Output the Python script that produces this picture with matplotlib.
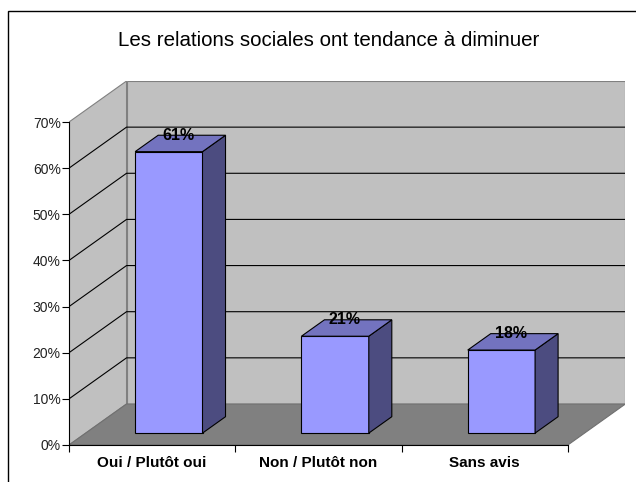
import numpy as np
import matplotlib.pyplot as plt
from matplotlib.patches import Polygon, Rectangle

# donnees
categories = ['Oui / Plutôt oui', 'Non / Plutôt non', 'Sans avis']
values = [61, 21, 18]
bar_labels = ['61%', '21%', '18%']
yticks = [0, 10, 20, 30, 40, 50, 60, 70]
ytick_labels = ['0%', '10%', '20%', '30%', '40%', '50%', '60%', '70%']
title = 'Les relations sociales ont tendance à diminuer'

plt.rcParams['font.family'] = ['Liberation Sans', 'DejaVu Sans']

# fausse 3D (projection oblique)
DX = 0.346   # profondeur en unites de categorie
DY = 8.89    # profondeur en %
ymax = 70
n = len(categories)
w = 0.405
d0, d1 = 0.29, 0.69

fig = plt.figure(figsize=(6.36, 4.82), dpi=100)
ax = fig.add_axes([69/636, 37/482, 556.4/636, 364/482])
ax.set_xlim(0, n + DX)
ax.set_ylim(0, ymax + DY)
ax.patch.set_alpha(0)

# murs
ax.add_patch(Polygon([(0, 0), (DX, DY), (DX, ymax + DY), (0, ymax)],
                     fc='#c0c0c0', ec='#808080', lw=0.8, zorder=1))
ax.add_patch(Polygon([(DX, DY), (n + DX, DY), (n + DX, ymax + DY), (DX, ymax + DY)],
                     fc='#c0c0c0', ec='#808080', lw=0.8, zorder=1))
ax.add_patch(Polygon([(0, 0), (n, 0), (n + DX, DY), (DX, DY)],
                     fc='#808080', ec='#707070', lw=0.8, zorder=1))
for t in yticks[1:-1]:
    ax.plot([0, DX, n + DX], [t, t + DY, t + DY], color='black', lw=0.8, zorder=2)

# barres
dd = d1 - d0
for i, v in enumerate(values):
    x0 = i + 0.5 - w / 2 + d0 * DX
    y0 = d0 * DY
    ax.add_patch(Polygon([(x0, y0), (x0 + w, y0), (x0 + w, y0 + v), (x0, y0 + v)],
                         fc='#9999ff', ec='black', lw=0.8, zorder=3))
    ax.add_patch(Polygon([(x0 + w, y0), (x0 + w + dd * DX, y0 + dd * DY),
                          (x0 + w + dd * DX, y0 + v + dd * DY), (x0 + w, y0 + v)],
                         fc='#4c4c80', ec='black', lw=0.8, zorder=3))
    ax.add_patch(Polygon([(x0, y0 + v), (x0 + w, y0 + v),
                          (x0 + w + dd * DX, y0 + v + dd * DY), (x0 + dd * DX, y0 + v + dd * DY)],
                         fc='#7373bf', ec='black', lw=0.8, zorder=3))
    ax.text(i + 0.5 + d0 * DX + 0.057, v + d1 * DY, bar_labels[i],
            ha='center', va='center', fontsize=11.5, fontweight='bold', zorder=4)

# axes
for s in ['top', 'right']:
    ax.spines[s].set_visible(False)
ax.spines['left'].set_bounds(0, ymax)
ax.spines['bottom'].set_bounds(0, n)
ax.spines['left'].set_linewidth(0.8)
ax.spines['bottom'].set_linewidth(0.8)
ax.spines['left'].set_zorder(5)
ax.spines['bottom'].set_zorder(5)

ax.set_yticks(yticks)
ax.set_yticklabels(ytick_labels)
ax.tick_params(axis='y', direction='out', length=5, width=0.8, pad=1, labelsize=10, labelcolor='#222222')

ax.set_xticks(range(n + 1))
ax.set_xticklabels([''] * (n + 1))
ax.set_xticks([i + 0.5 for i in range(n)], minor=True)
ax.set_xticklabels(categories, minor=True, fontsize=11, fontweight='bold')
ax.tick_params(axis='x', which='major', direction='out', length=5, width=0.8)
ax.tick_params(axis='x', which='minor', length=0, pad=8)

fig.text(329/636, 1 - 41/482, title, ha='center', va='center', fontsize=14.8)

# cadre
fig.patches.append(Rectangle((8/636, -0.05), 1.1, 1 - 11/482 + 0.05,
                             transform=fig.transFigure, fill=False, ec='black', lw=1))

fig.savefig('out.png', dpi=100)
